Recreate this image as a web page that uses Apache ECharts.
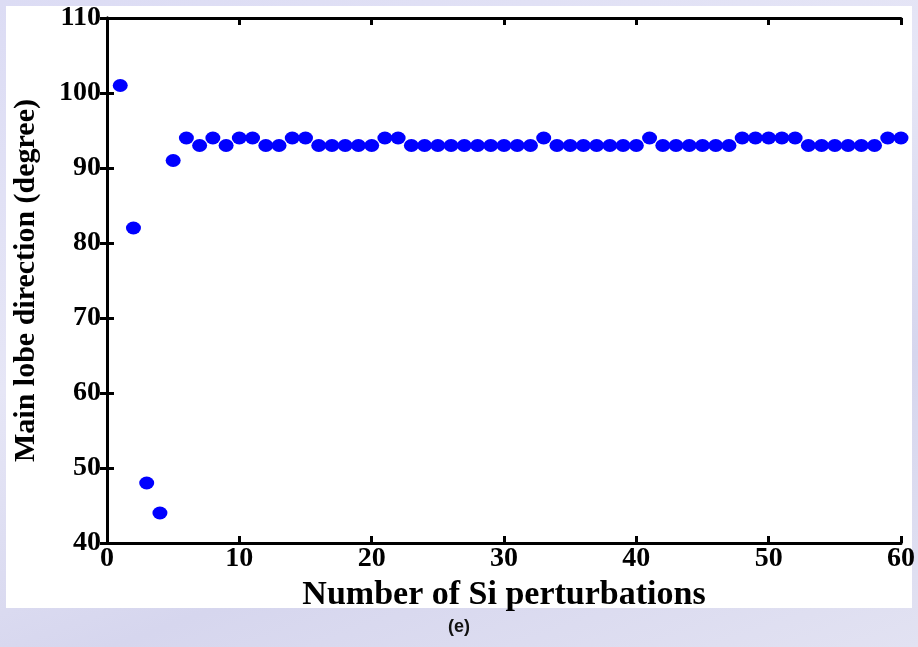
<!DOCTYPE html>
<html>
<head>
<meta charset="utf-8">
<script src="https://cdn.jsdelivr.net/npm/echarts@6/dist/echarts.min.js"></script>
<style>
  html, body { margin: 0; padding: 0; }
  body {
    width: 918px; height: 647px; overflow: hidden; position: relative;
    background: linear-gradient(160deg, #dcdcf4 0%, #e6e6f6 40%, #d6d6ee 70%, #e2e2f2 100%);
  }
  #panel { position: absolute; left: 6px; top: 6px; width: 906px; height: 602px; background: #ffffff; }
  #chart { position: absolute; left: 0; top: 0; width: 918px; height: 647px; }
</style>
</head>
<body>
<div id="panel"></div>
<div id="chart"></div>
<script>
// Main lobe direction versus number of Si perturbations
const perturbations = [];
for (let n = 1; n <= 60; n++) perturbations.push(n);
const directionDeg = [
  101, 82, 48, 44, 91, 94, 93, 94, 93, 94,
  94, 93, 93, 94, 94, 93, 93, 93, 93, 93,
  94, 94, 93, 93, 93, 93, 93, 93, 93, 93,
  93, 93, 94, 93, 93, 93, 93, 93, 93, 93,
  94, 93, 93, 93, 93, 93, 93, 94, 94, 94,
  94, 94, 93, 93, 93, 93, 93, 93, 94, 94
];
const xTicks = [0, 10, 20, 30, 40, 50, 60];
const yTicks = [40, 50, 60, 70, 80, 90, 100, 110];

const points = perturbations.map((n, i) => [n, directionDeg[i]]);
const serif = 'Liberation Serif';
const axisLine = { show: true, lineStyle: { color: '#000', width: 3 } };
const tick = { show: true, inside: true, length: 7, lineStyle: { color: '#000', width: 3 } };

const chart = echarts.init(document.getElementById('chart'));
chart.setOption({
  backgroundColor: 'transparent',
  animation: false,
  title: {
    text: '(e)', left: 'center', top: 613,
    textStyle: { fontFamily: 'Liberation Sans', fontWeight: 'bold', fontSize: 18, color: '#111' }
  },
  grid: { left: 107, right: 15, top: 18, bottom: 104 },
  xAxis: [{
    type: 'value', min: xTicks[0], max: xTicks[xTicks.length - 1], interval: 10,
    axisLine, axisTick: tick, splitLine: { show: false },
    axisLabel: { fontFamily: serif, fontWeight: 'bold', fontSize: 28, color: '#000', margin: 2 },
    name: 'Number of Si perturbations', nameLocation: 'middle', nameGap: 35,
    nameTextStyle: { fontFamily: serif, fontWeight: 'bold', fontSize: 34, color: '#000' }
  }, {
    type: 'value', position: 'top', min: xTicks[0], max: xTicks[xTicks.length - 1], interval: 10,
    axisLine, axisTick: tick, axisLabel: { show: false }, splitLine: { show: false }
  }],
  yAxis: [{
    type: 'value', min: yTicks[0], max: yTicks[yTicks.length - 1], interval: 10,
    axisLine, axisTick: tick, splitLine: { show: false },
    axisLabel: { fontFamily: serif, fontWeight: 'bold', fontSize: 28, color: '#000', margin: 6 },
    name: 'Main lobe direction (degree)', nameLocation: 'middle', nameGap: 66,
    nameTextStyle: { fontFamily: serif, fontWeight: 'bold', fontSize: 30, color: '#000' }
  }, {
    type: 'value', position: 'right', min: yTicks[0], max: yTicks[yTicks.length - 1], interval: 10,
    axisLine, axisTick: tick, axisLabel: { show: false }, splitLine: { show: false }
  }],
  series: [{
    type: 'scatter',
    data: points,
    symbol: 'circle',
    symbolSize: [15, 13],
    itemStyle: { color: '#0000ff', opacity: 1 },
    clip: false
  }]
});
</script>
</body>
</html>
